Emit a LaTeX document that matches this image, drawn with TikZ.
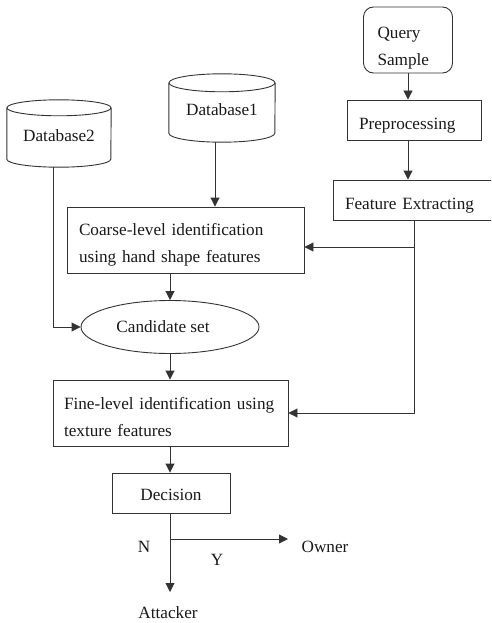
\documentclass[tikz,border=0pt]{standalone}
\usepackage{fontspec}
\setmainfont{Liberation Serif}
\usetikzlibrary{arrows.meta,shapes.geometric}
% invisible strut that pushes a box's text block a little lower
\newcommand\boxstrut[1]{\rule{0pt}{#1}}
\begin{document}
\begin{tikzpicture}[x=1pt,y=-1pt,
  every node/.style={font=\fontsize{17.2}{27}\selectfont, text=black!90},
  line/.style={draw=black!80, line width=0.9pt},
  arr/.style={line, -{Triangle[length=9pt,width=9pt]}},
  box/.style={line, rectangle, inner sep=0pt, align=left},
  dbase/.style={rectangle, inner sep=0pt},
  lbl/.style={inner sep=0pt}
]
\useasboundingbox (0,0) rectangle (491,623);
\clip (0,0) rectangle (491,623);

% databases (cylinder outline drawn around each named node)
\node[dbase, minimum width=104pt, minimum height=67pt] (db2) at (59,133.5) {\boxstrut{16pt}Database2};
\node[dbase, minimum width=106pt, minimum height=68pt] (db1) at (222,108) {\boxstrut{16pt}Database1};
\draw[line] ([yshift=-8pt]db2.north) ellipse (52pt and 8pt);
\draw[line] ([yshift=-8pt]db2.north west) -- ([yshift=8pt]db2.south west)
  arc[start angle=180, end angle=360, x radius=52pt, y radius=8pt]
  -- ([yshift=-8pt]db2.north east);
\draw[line] ([yshift=-9pt]db1.north) ellipse (53pt and 9pt);
\draw[line] ([yshift=-9pt]db1.north west) -- ([yshift=9pt]db1.south west)
  arc[start angle=180, end angle=360, x radius=53pt, y radius=9pt]
  -- ([yshift=-9pt]db1.north east);

% query side
\node[box, rounded corners=10pt, minimum width=89pt, minimum height=66pt,
      text width=61pt, inner xsep=14pt] (query) at (408,40) {\boxstrut{27pt}Query\\Sample};
\node[box, minimum width=134pt, minimum height=40pt, text width=110pt, inner xsep=12pt]
  (pre) at (414,120) {\boxstrut{22pt}Preprocessing};
\node[box, minimum width=172pt, minimum height=40pt, text width=148pt, inner xsep=12pt]
  (fe) at (419,200) {\boxstrut{22pt}Feature Extracting};

% identification chain
\node[box, minimum width=237pt, minimum height=66pt, text width=213pt, inner xsep=12pt]
  (coarse) at (185.5,240) {\boxstrut{22pt}Coarse-level identification\\using hand shape features};
\node[line, ellipse, minimum width=178pt, minimum height=53pt, inner sep=0pt]
  (cand) at (170,327) {Candidate set\hspace*{14pt}};
\node[box, minimum width=235pt, minimum height=66pt, text width=213pt, inner xsep=11pt]
  (fine) at (170.5,413) {\boxstrut{20pt}Fine-level identification using\\texture features};
\node[box, minimum width=118pt, minimum height=40pt, align=center]
  (dec) at (171,493) {\boxstrut{16pt}Decision};

% outcomes
\node[lbl] (attacker) at (168,613) {Attacker};
\node[lbl] (owner) at (325,547) {Owner};
\node[lbl] (n) at (144,547) {N};
\node[lbl] (y) at (217,560) {Y};

% junction points
\coordinate (qx) at (408,0);
\coordinate (d1x) at (215,0);
\coordinate (d2x) at (53,0);
\coordinate (fj) at (414,247);
\coordinate (br) at (170,539);
\coordinate (ownerend) at (288,539);
\coordinate (attend) at (170,592);

% connectors
\draw[arr] (query.south -| qx) -- (pre.north -| qx);
\draw[arr] (pre.south -| qx) -- (fe.north -| qx);
\draw[arr] (db1.south -| d1x) -- (coarse.north -| d1x);
\draw[line] (fe.south -| fj) -- (fj);
\draw[arr] (fj) -- (coarse.east |- fj);
\draw[arr] (fj) |- (fine.east);
\draw[arr] (coarse.south -| cand) -- (cand.north);
\draw[arr] (db2.south -| d2x) |- (cand.west);
\draw[arr] (cand.south) -- (fine.north -| cand);
\draw[arr] (fine.south -| br) -- (dec.north -| br);
\draw[arr] (dec.south -| br) -- (attend);
\draw[arr] (br) -- (ownerend);
\end{tikzpicture}
\end{document}
